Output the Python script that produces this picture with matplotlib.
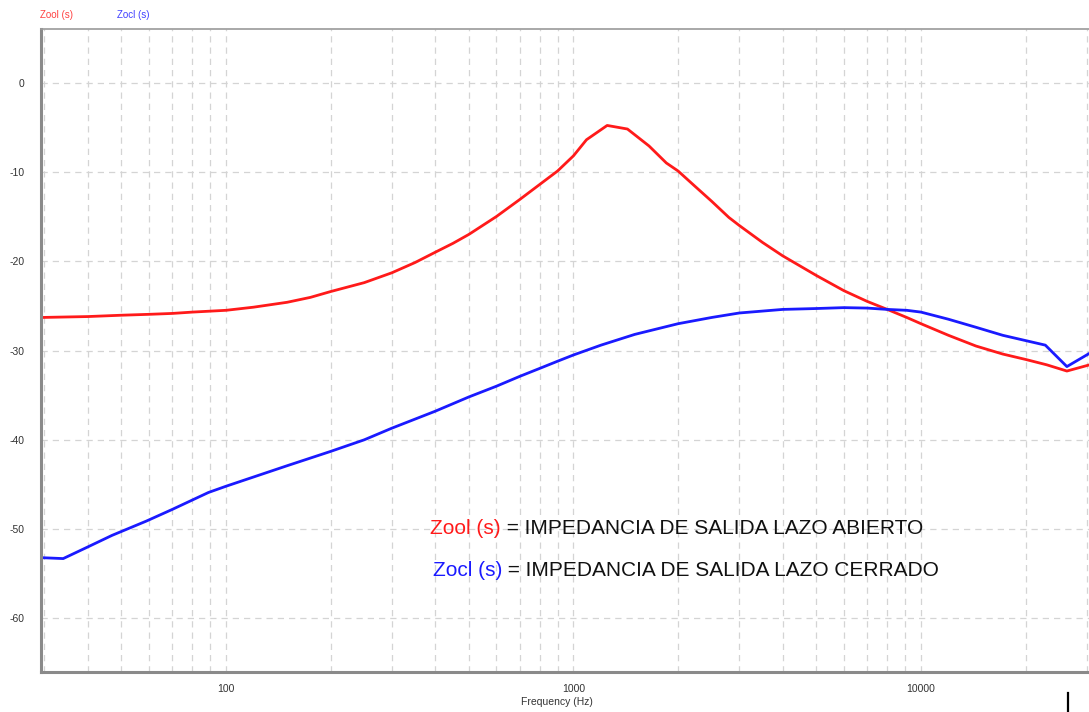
import matplotlib
matplotlib.use("Agg")
import matplotlib.pyplot as plt
from matplotlib.ticker import FixedLocator, NullFormatter, LogLocator
from matplotlib.lines import Line2D

plt.rcParams['font.family'] = ['Liberation Sans', 'DejaVu Sans']

# ---- data ----
freq_ol = [29.5, 40, 50, 60, 70, 80, 100, 120, 150, 175, 200, 250, 300, 350, 400,
           450, 500, 600, 700, 800, 900, 1000, 1090, 1250, 1430, 1650, 1850,
           2000, 2250, 2500, 2800, 3000, 3500, 4000, 5000, 6000, 7000, 8000,
           9100, 10000, 12000, 14400, 17200, 20000, 23000, 26300, 30600]
zool_db = [-26.3, -26.2, -26.05, -25.95, -25.85, -25.7, -25.5, -25.15, -24.6,
           -24.05, -23.4, -22.4, -21.3, -20.15, -19.0, -18.0, -17.0, -15.0,
           -13.1, -11.4, -9.9, -8.2, -6.4, -4.8, -5.2, -7.1, -9.0, -9.9, -11.7,
           -13.3, -15.1, -16.0, -17.9, -19.4, -21.6, -23.3, -24.5, -25.4, -26.3,
           -27.0, -28.3, -29.5, -30.4, -31.0, -31.6, -32.3, -31.6]

freq_cl = [29.5, 34, 40, 47, 59, 70, 89, 100, 150, 200, 250, 300, 400, 500, 600,
           700, 800, 900, 1000, 1200, 1500, 2000, 2500, 3000, 4000, 5000, 6000,
           7000, 8000, 9100, 10000, 12000, 14400, 17200, 22800, 26300, 30600]
zocl_db = [-53.2, -53.3, -52.0, -50.7, -49.1, -47.8, -45.9, -45.2, -42.9, -41.3,
           -40.0, -38.7, -36.8, -35.2, -34.0, -32.9, -32.0, -31.2, -30.5, -29.4,
           -28.2, -27.0, -26.3, -25.8, -25.4, -25.3, -25.2, -25.25, -25.4, -25.5,
           -25.7, -26.5, -27.4, -28.3, -29.4, -31.8, -30.3]

y_ticks = [0, -10, -20, -30, -40, -50, -60]
x_ticks = [100, 1000, 10000]
x_tick_labels = ['100', '1000', '10000']

series_names = ['Zool (s)', 'Zocl (s)']
note_ol = ' = IMPEDANCIA DE SALIDA LAZO ABIERTO'
note_cl = ' = IMPEDANCIA DE SALIDA LAZO CERRADO'

RED = '#ff1a1a'
BLUE = '#1a1aff'

W, H = 1089, 712
fig = plt.figure(figsize=(W / 100, H / 100), dpi=100)
ax = fig.add_axes([41 / W, (H - 672) / H, (1089 - 41) / W, (672 - 29) / H])

ax.plot(freq_ol, zool_db, color=RED, lw=2.0, solid_joinstyle='round')
ax.plot(freq_cl, zocl_db, color=BLUE, lw=2.0, solid_joinstyle='round')

ax.set_xscale('log')
ax.set_xlim(29.35, 30450)
ax.set_ylim(-66, 6)

ax.xaxis.set_major_locator(FixedLocator(x_ticks))
ax.set_xticklabels(x_tick_labels)
ax.xaxis.set_minor_locator(LogLocator(base=10, subs=range(2, 10)))
ax.xaxis.set_minor_formatter(NullFormatter())
ax.set_yticks(y_ticks)
ax.set_yticklabels([str(v) for v in y_ticks])

ax.grid(True, which='major', axis='both', color='#d4d4d4', linestyle=(0, (5, 4)), lw=0.9)
ax.grid(True, which='minor', axis='x', color='#d4d4d4', linestyle=(0, (5, 4)), lw=0.9)
ax.set_axisbelow(True)

ax.tick_params(axis='both', which='both', length=0, labelsize=7.5, labelcolor='#333333')
ax.tick_params(axis='y', pad=12)
ax.tick_params(axis='x', pad=9)

for s in ['left', 'bottom']:
    ax.spines[s].set_color('#8a8a8a')
    ax.spines[s].set_linewidth(2.2)
ax.spines['top'].set_color('#9a9a9a')
ax.spines['top'].set_linewidth(1.2)
ax.spines['right'].set_visible(False)

# axis label
fig.text(557 / W, 1 - 702 / H, 'Frequency (Hz)', ha='center', va='center',
         fontsize=7.5, color='#333333')

# top legend names
fig.text(40 / W, 1 - 15 / H, series_names[0], ha='left', va='center', fontsize=7, color='#ff4040')
fig.text(117 / W, 1 - 15 / H, series_names[1], ha='left', va='center', fontsize=7, color='#4040ff')

# annotation notes
fs = 15
t1 = fig.text(430 / W, 1 - 528 / H, series_names[0], ha='left', va='center',
              fontsize=fs, color=RED)
fig.canvas.draw()
ax.annotate(note_ol, xy=(1, 0.5), xycoords=t1, ha='left', va='center',
            fontsize=fs, color='#111111', annotation_clip=False)
t2 = fig.text(433 / W, 1 - 571 / H, series_names[1], ha='left', va='center',
              fontsize=fs, color=BLUE)
ax.annotate(note_cl, xy=(1, 0.5), xycoords=t2, ha='left', va='center',
            fontsize=fs, color='#111111', annotation_clip=False)

# small black marker at the bottom right
fig.add_artist(Line2D([1068 / W, 1068 / W], [0, 1 - 693 / H], color='black', lw=1.6,
                      transform=fig.transFigure))

fig.savefig('out.png', dpi=100)
